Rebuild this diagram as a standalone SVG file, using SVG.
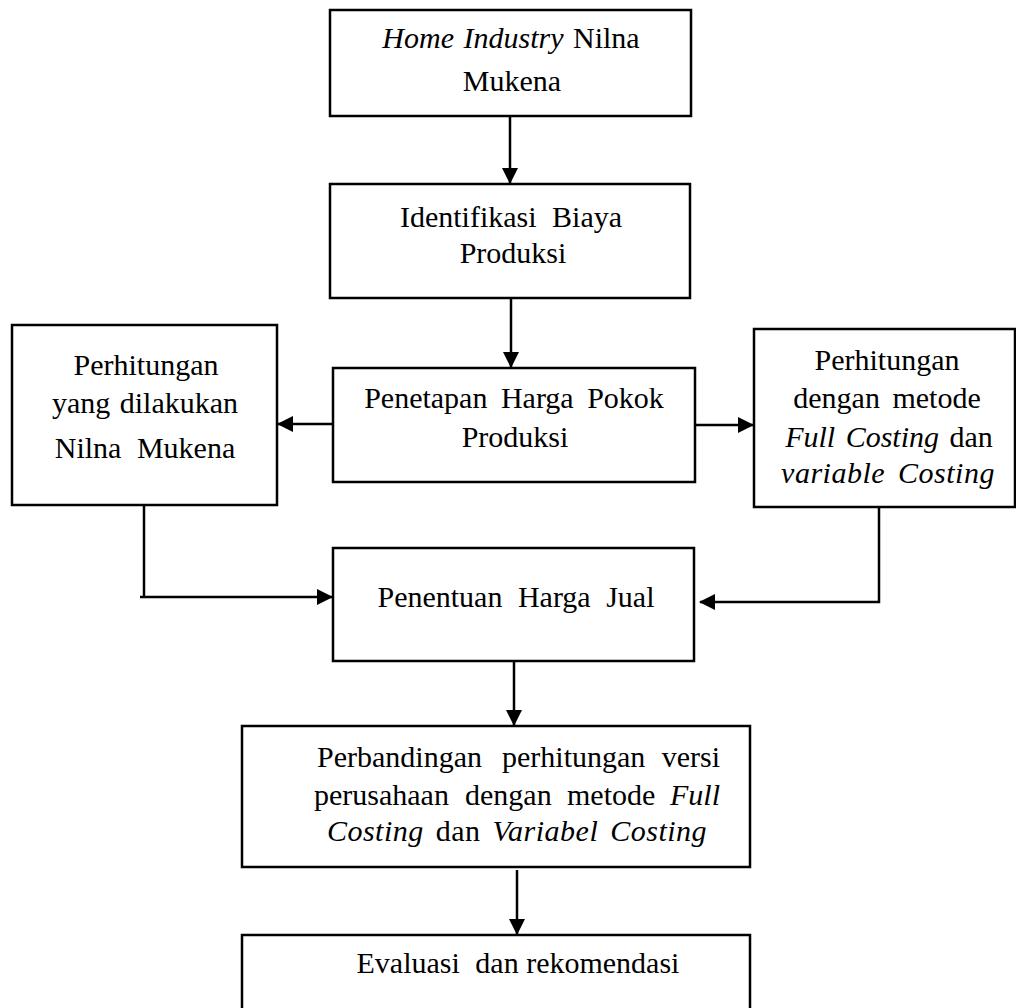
<svg xmlns="http://www.w3.org/2000/svg" width="1016" height="1008" viewBox="0 0 1016 1008">
<style>
.box{fill:#fff;stroke:#000;stroke-width:2.5}
.t{font-family:"Liberation Serif","Times New Roman",serif;font-size:30px;fill:#000;text-anchor:middle}
.s{text-anchor:start}
.i{font-style:italic}
.c{fill:none;stroke:#000;stroke-width:2.5}
</style>
<defs>
<marker id="ah" markerUnits="userSpaceOnUse" markerWidth="16" markerHeight="16" refX="15" refY="8" orient="auto">
<path d="M0,0 L16,8 L0,16 Z" fill="#000"/>
</marker>
</defs>
<rect width="1016" height="1008" fill="#fff"/>
<g id="connectors">
<path class="c" d="M510,116 V183" marker-end="url(#ah)"/>
<path class="c" d="M511,298 V367" marker-end="url(#ah)"/>
<path class="c" d="M333,424 H278" marker-end="url(#ah)"/>
<path class="c" d="M695,425 H753" marker-end="url(#ah)"/>
<path class="c" d="M144,505 V597"/>
<path class="c" d="M140,597 H332" marker-end="url(#ah)"/>
<path class="c" d="M879,507 V602 H700" marker-end="url(#ah)"/>
<path class="c" d="M514,661 V725" marker-end="url(#ah)"/>
<path class="c" d="M517,870 V934" marker-end="url(#ah)"/>
</g>
<g id="n1">
<rect class="box" x="330" y="10" width="361" height="106"/>
<text class="t" x="511" y="48" word-spacing="2"><tspan class="i">Home Industry</tspan> Nilna</text>
<text class="t" x="512" y="91">Mukena</text>
</g>
<g id="n2">
<rect class="box" x="330" y="184" width="360" height="114"/>
<text class="t" x="511" y="227" word-spacing="8">Identifikasi Biaya</text>
<text class="t" x="513" y="263">Produksi</text>
</g>
<g id="n3">
<rect class="box" x="333" y="368" width="362" height="114"/>
<text class="t" x="514" y="408" word-spacing="6">Penetapan Harga Pokok</text>
<text class="t" x="515" y="447">Produksi</text>
</g>
<g id="n4">
<rect class="box" x="12" y="325" width="265" height="180"/>
<text class="t" x="146" y="375">Perhitungan</text>
<text class="t" x="145" y="413" word-spacing="2">yang dilakukan</text>
<text class="t" x="145" y="458" word-spacing="8">Nilna Mukena</text>
</g>
<g id="n5">
<rect class="box" x="754" y="329" width="261" height="178"/>
<text class="t" x="887" y="370">Perhitungan</text>
<text class="t" x="887" y="408" word-spacing="5">dengan metode</text>
<text class="t" x="889" y="447" word-spacing="3"><tspan class="i">Full Costing</tspan> dan</text>
<text class="t i" x="888" y="483" word-spacing="5" letter-spacing="0.5">variable Costing</text>
</g>
<g id="n6">
<rect class="box" x="333" y="548" width="361" height="113"/>
<text class="t" x="516" y="607" word-spacing="8">Penentuan Harga Jual</text>
</g>
<g id="n7">
<rect class="box" x="242" y="726" width="508" height="141"/>
<text class="t s" y="767"><tspan x="317">Perbandingan</tspan><tspan x="502">perhitungan</tspan><tspan x="720" text-anchor="end">versi</tspan></text>
<text class="t s" y="805"><tspan x="314">perusahaan</tspan><tspan x="465">dengan</tspan><tspan x="567">metode</tspan><tspan x="720" class="i" text-anchor="end">Full</tspan></text>
<text class="t" x="517" y="841" word-spacing="4" letter-spacing="0.5"><tspan class="i">Costing</tspan> dan <tspan class="i">Variabel Costing</tspan></text>
</g>
<g id="n8">
<rect class="box" x="242" y="935" width="508" height="90"/>
<text class="t" x="518" y="973"><tspan>Evaluasi</tspan><tspan dx="8"> dan rekomendasi</tspan></text>
</g>
</svg>
